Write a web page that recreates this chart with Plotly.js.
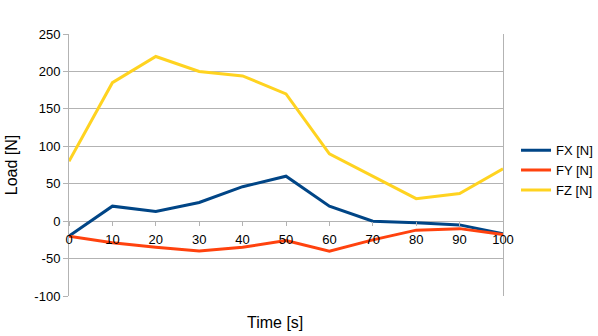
<!DOCTYPE html>
<html><head><meta charset="utf-8">
<script src="https://cdn.plot.ly/plotly-3.0.1.min.js"></script>
<style>html,body{margin:0;padding:0;background:#fff}#c{width:598px;height:336px}</style>
</head><body><div id="c"></div>
<script>
const time = [0, 10, 20, 30, 40, 50, 60, 70, 80, 90, 100];
const fx = [-20, 20, 13, 25, 46, 60, 20, 0, -2, -5, -17];
const fy = [-20, -29, -35, -40, -35, -26, -40, -25, -12, -10, -18];
const fz = [80, 185, 220, 200, 194, 170, 90, 60, 30, 37, 70];
const names = ['FX [N]', 'FY [N]', 'FZ [N]'];
const colors = ['#004586', '#ff420e', '#ffd320'];
const series = [fx, fy, fz];
const yTicks = [-100, -50, 0, 50, 100, 150, 200, 250];

const traces = series.map((s, i) => ({
  x: time, y: s, name: names[i], type: 'scatter', mode: 'lines',
  line: {color: colors[i], width: 3}
}));

const layout = {
  width: 598, height: 336,
  margin: {l: 69, r: 95, t: 34, b: 40, autoexpand: false},
  paper_bgcolor: '#fff', plot_bgcolor: '#fff',
  font: {family: 'Liberation Sans, Arial, sans-serif', size: 13, color: '#000'},
  showlegend: true,
  legend: {x: 1.03, y: 0.48, yanchor: 'middle', xanchor: 'left', itemwidth: 30,
           font: {size: 13}, tracegroupgap: 0, bgcolor: 'rgba(0,0,0,0)'},
  xaxis: {range: [0, 100], tickvals: time, ticktext: time.map(String),
          showgrid: false, zeroline: false, showline: false,
          anchor: 'free', position: 100 / 350, ticks: 'outside', ticklen: 4,
          tickcolor: '#b3b3b3', ticklabelstandoff: 2, fixedrange: true},
  yaxis: {range: [-100, 250], tickvals: yTicks, ticktext: yTicks.map(String),
          showgrid: true, gridcolor: '#b3b3b3', gridwidth: 1,
          zeroline: false, showline: true, linecolor: '#b3b3b3', linewidth: 1, mirror: true,
          ticks: 'outside', ticklen: 5, tickcolor: '#b3b3b3',
          title: {text: 'Load [N]', font: {size: 16}, standoff: 12}},
  annotations: [{text: 'Time [s]', xref: 'paper', yref: 'paper', x: (275 - 69) / 434, y: 0,
                 yshift: -26, showarrow: false, xanchor: 'center', yanchor: 'middle',
                 font: {size: 16}}]
};
Plotly.newPlot('c', traces, layout, {displayModeBar: false, staticPlot: true});
</script></body></html>
